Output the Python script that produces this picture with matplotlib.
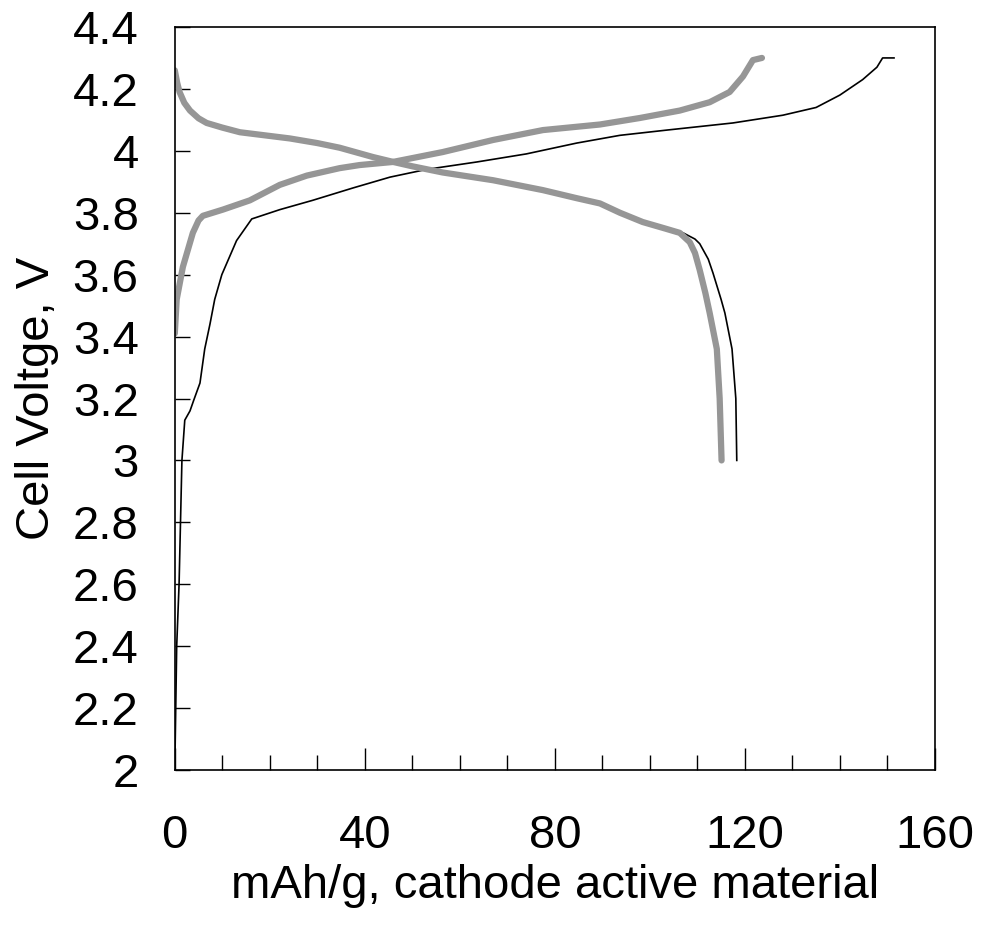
import matplotlib
matplotlib.use("Agg")
import matplotlib.pyplot as plt
from matplotlib.ticker import MultipleLocator

plt.rcParams['font.family'] = ['Liberation Sans', 'DejaVu Sans']

# first cycle (thin black)
charge1_cap = [0, 0.2, 0.4, 0.9, 1.2, 1.5, 2.1, 3.2, 4.0, 5.3, 6.3, 7.4, 8.4, 9.9,
               13.0, 16.2, 22.1, 29.0, 37.5, 45.3, 53.0, 63.6, 74.0, 84.6, 93.7,
               103.6, 117.5, 128.0, 135.0, 140.0, 144.8, 147.8, 149.0, 151.4]
charge1_v = [2.0, 2.2, 2.4, 2.6, 2.8, 3.0, 3.13, 3.16, 3.195, 3.25, 3.36, 3.44, 3.52, 3.6,
             3.71, 3.78, 3.81, 3.84, 3.88, 3.915, 3.94, 3.964, 3.99, 4.025, 4.05,
             4.067, 4.09, 4.115, 4.14, 4.18, 4.23, 4.27, 4.3, 4.3]

discharge1_cap = [0, 1.0, 3.2, 6.7, 13.7, 24.2, 34.7, 41.7, 50.0, 56.4, 67.0, 77.5,
                  84.6, 89.5, 93.7, 98.5, 103.0, 107.0, 109.5, 110.5, 112.3, 113.3,
                  115.0, 115.8, 117.3, 118.1, 118.3]
discharge1_v = [4.26, 4.19, 4.13, 4.09, 4.06, 4.04, 4.01, 3.98, 3.95, 3.93, 3.905, 3.873,
                3.847, 3.83, 3.80, 3.77, 3.75, 3.735, 3.715, 3.70, 3.65, 3.605,
                3.52, 3.476, 3.36, 3.2, 3.0]

# second cycle (thick grey)
charge2_cap = [0, 0.4, 1.7, 3.8, 5.0, 5.9, 10.1, 15.8, 22.1, 27.8, 34.7, 38.9, 45.9,
               56.4, 67.0, 77.5, 89.5, 97.9, 106.3, 112.6, 116.8, 119.6, 121.7, 123.6]
charge2_v = [3.41, 3.52, 3.625, 3.735, 3.775, 3.79, 3.81, 3.84, 3.89, 3.92, 3.944, 3.954, 3.964,
             3.996, 4.035, 4.067, 4.085, 4.106, 4.13, 4.157, 4.19, 4.24, 4.293, 4.3]

discharge2_cap = [0, 0.5, 1.0, 2.0, 3.2, 5.0, 6.7, 10.0, 13.7, 20.0, 24.2, 30.0, 34.7,
                  41.7, 46.0, 50.0, 56.4, 67.0, 77.5, 84.6, 89.5, 93.7, 98.5, 103.0,
                  106.3, 108.4, 109.5, 110.5, 111.7, 112.6, 114.1, 114.7, 115.1]
discharge2_v = [4.26, 4.22, 4.19, 4.155, 4.13, 4.105, 4.09, 4.075, 4.06, 4.048, 4.04, 4.025, 4.01,
                3.98, 3.964, 3.95, 3.93, 3.905, 3.873, 3.847, 3.83, 3.80, 3.77, 3.75,
                3.735, 3.705, 3.67, 3.615, 3.54, 3.476, 3.36, 3.2, 3.0]

fig = plt.figure(figsize=(9.82, 9.30), dpi=100)
ax = fig.add_axes([0.178, 0.172, 0.774, 0.799])

ax.plot(charge1_cap, charge1_v, color='black', lw=1.2)
ax.plot(discharge1_cap, discharge1_v, color='black', lw=1.2)
ax.plot(charge2_cap, charge2_v, color='#969696', lw=4.5, solid_capstyle='round')
ax.plot(discharge2_cap, discharge2_v, color='#969696', lw=4.5, solid_capstyle='round')

ax.set_xlim(0, 160)
ax.set_ylim(2, 4.4)
ax.xaxis.set_major_locator(MultipleLocator(40))
ax.xaxis.set_minor_locator(MultipleLocator(10))
ax.set_yticks([2, 2.2, 2.4, 2.6, 2.8, 3, 3.2, 3.4, 3.6, 3.8, 4, 4.2, 4.4])
ax.set_yticklabels(['2', '2.2', '2.4', '2.6', '2.8', '3', '3.2', '3.4', '3.6',
                    '3.8', '4', '4.2', '4.4'])

ax.tick_params(axis='x', which='major', direction='in', length=16, width=1,
               labelsize=34, pad=32, top=False)
ax.tick_params(axis='x', which='minor', direction='in', length=11, width=1, top=False)
ax.tick_params(axis='y', which='major', direction='in', length=11, width=1,
               labelsize=34, pad=26, right=False)

for s in ax.spines.values():
    s.set_linewidth(1.2)

ax.set_xlabel('mAh/g, cathode active material', fontsize=34, labelpad=4)
ax.set_ylabel('Cell Voltge, V', fontsize=34, labelpad=10)

fig.savefig('out.png', dpi=100)
